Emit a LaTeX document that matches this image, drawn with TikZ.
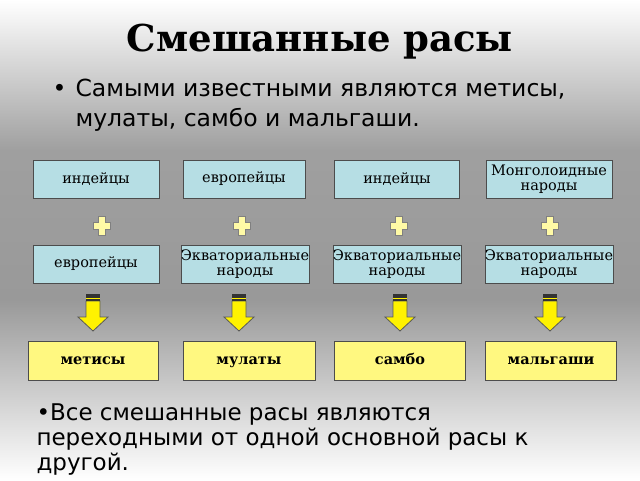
\documentclass[tikz,border=0pt]{standalone}
\usepackage{fontspec}
\setmainfont{DejaVu Serif}
\newfontfamily\bulletfont{DejaVu Sans}
\usetikzlibrary{positioning}

\definecolor{boxblue}{RGB}{182,222,228}
\tikzstyle{race}=[draw=black!70,fill=boxblue,minimum width=126pt,minimum height=38pt,inner sep=0pt,align=center,font=\fontsize{14.5}{15}\selectfont]
\tikzstyle{mix}=[draw=black!70,fill=yellow!50,minimum width=130pt,minimum height=39pt,text height=10pt,text depth=3pt,font=\bfseries\fontsize{14.5}{15}\selectfont]
\tikzstyle{plus}=[fill=yellow!35,draw=gray,line width=1pt]
\tikzstyle{down}=[fill=yellow,draw=gray!70!black,line width=0.8pt]

\begin{document}
\begin{tikzpicture}[x=1pt,y=-1pt]
  \shade[top color=white,bottom color=gray!80,middle color=gray!75] (0,0) rectangle (640,300);
  \shade[top color=gray!80,bottom color=white] (0,300) rectangle (640,480);
  \useasboundingbox (0,0) rectangle (640,480);

  \node[font=\bfseries\fontsize{37}{37}\selectfont] (title) at (320,42) {Смешанные расы};
  \node[anchor=north west,align=left,font=\bulletfont\fontsize{23.5}{30}\selectfont] (top) at (72,76)
    {\llap{•\hspace{9pt}}Самыми известными являются метисы,\\мулаты, самбо и мальгаши.};

  \node[race] (a1) at (96,179) {индейцы};
  \node[race,minimum width=122pt] (b1) at (244,179) {европейцы};
  \node[race,minimum width=125pt] (c1) at (397,179) {индейцы};
  \node[race] (d1) at (549,179) {Монголоидные\\народы};

  \node[race] (a2) at (96,264) {европейцы};
  \node[race,minimum width=125pt] (b2) at (245,264) {Экваториальные\\народы};
  \node[race,minimum width=125pt] (c2) at (397,264) {Экваториальные\\народы};
  \node[race] (d2) at (549,264) {Экваториальные\\народы};

  \node[mix] (a3) at (93,361) {метисы};
  \node[mix,minimum width=132pt] (b3) at (249,361) {мулаты};
  \node[mix,minimum width=131pt] (c3) at (400,361) {самбо};
  \node[mix,minimum width=131pt] (d3) at (551,361) {мальгаши};

  \foreach \x in {102,242,399,550}{
    \draw[plus] (\x-3.5,216) -- (\x+3.5,216) -- (\x+3.5,222) -- (\x+8.5,222) -- (\x+8.5,229) -- (\x+3.5,229)
      -- (\x+3.5,235) -- (\x-3.5,235) -- (\x-3.5,229) -- (\x-8.5,229) -- (\x-8.5,222) -- (\x-3.5,222) -- cycle;
  }
  \foreach \x in {93,239,400,550}{
    \draw[down] (\x-7,301) -- (\x+7,301) -- (\x+7,317) -- (\x+15,317) -- (\x,331) -- (\x-15,317) -- (\x-7,317) -- cycle;
    \fill[black!80] (\x-7,294) rectangle (\x+7,297.5);
    \fill[black!80] (\x-7,299) rectangle (\x+7,300.5);
    \fill[yellow] (\x-7,297.5) rectangle (\x+7,299);
  }

  \node[anchor=north west,align=left,font=\bulletfont\fontsize{23}{25}\selectfont] (bottom) at (33,400)
    {•Все смешанные расы являются\\переходными от одной основной расы к\\другой.};
\end{tikzpicture}
\end{document}
